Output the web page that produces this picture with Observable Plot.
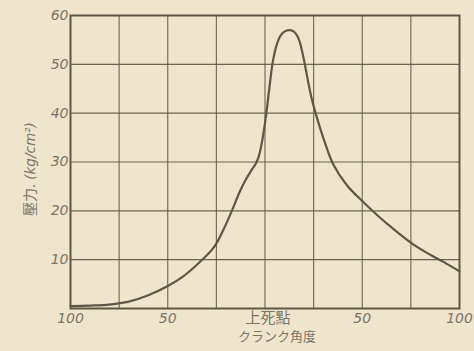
<!DOCTYPE html>
<html><head><meta charset="utf-8">
<script src="https://cdn.jsdelivr.net/npm/d3@7"></script>
<script src="https://cdn.jsdelivr.net/npm/@observablehq/plot@0.6"></script>
<style>
html,body{margin:0;padding:0;background:#efe4cc;}
</style></head><body><div id="chart"></div>
<script>
const crankAngle = [-100, -90, -80, -70, -60, -50, -42, -36, -32, -28, -25, -22, -19, -16, -13, -10, -7, -5, -3.5, -2, -0.5, 1, 2.5, 4, 6, 8, 10, 12.5, 14.5, 16.5, 18, 19.5, 21, 22.5, 24, 26, 30, 35, 42, 50, 58, 66, 76, 85, 92, 100];
const pressure   = [0.5, 0.6, 0.8, 1.4, 2.7, 4.6, 6.6, 8.6, 10.1, 11.7, 13.3, 15.6, 18.2, 21.0, 23.9, 26.3, 28.3, 29.5, 30.8, 33.2, 36.6, 41.0, 46.0, 50.5, 54.0, 55.9, 56.7, 57.0, 56.8, 55.9, 54.4, 51.9, 48.9, 45.8, 43.0, 40.0, 34.9, 29.6, 25.3, 22.0, 19.0, 16.3, 13.2, 11.0, 9.5, 7.6];
const xTicks = [-100, -50, 50, 100];
const xTickLabels = ["100", "50", "50", "100"];
const tdcTick = [0];
const tdcLabel = "上死點";
const xTitle = "クランク角度";
const yTitleA = "壓力.";
const yTitleB = "(kg/cm²)";
const yTicks = [10, 20, 30, 40, 50, 60];
const xGrid = [-75, -50, -25, 0, 25, 50, 75];
const yGrid = [10, 20, 30, 40, 50];

const data = crankAngle.map((a, i) => ({a, p: pressure[i]}));
const ink = "#5e5747";
const textInk = "#7b7567";

const chart = Plot.plot({
  width: 474, height: 351,
  marginLeft: 70, marginRight: 15, marginTop: 15, marginBottom: 43,
  style: {background: "transparent", fontFamily: "'DejaVu Sans', sans-serif", overflow: "visible"},
  x: {domain: [-100, 100]},
  y: {domain: [0, 60]},
  marks: [
    Plot.ruleX(xGrid, {stroke: ink, strokeWidth: 1.1, strokeOpacity: 0.9}),
    Plot.ruleY(yGrid, {stroke: ink, strokeWidth: 1.1, strokeOpacity: 0.9}),
    Plot.frame({stroke: ink, strokeWidth: 2}),
    Plot.line(data, {x: "a", y: "p", stroke: ink, strokeWidth: 2.2, curve: "catmull-rom"}),
    Plot.axisX(xTicks, {tickSize: 0, tickPadding: 5, tickFormat: (d, i) => xTickLabels[i], fontStyle: "italic", fontSize: 14, fill: textInk, label: null}),
    Plot.text(tdcTick, {x: d => d, frameAnchor: "bottom", dy: 14, dx: 3, text: () => tdcLabel, fontSize: 15, fill: textInk, fontFamily: "'Noto Sans CJK JP'"}),
    Plot.axisY(yTicks, {tickSize: 0, tickPadding: 2, tickFormat: d => String(d), fontStyle: "italic", fontSize: 14, fill: textInk, label: null}),
    Plot.text([xTitle], {frameAnchor: "bottom", dy: 32, dx: 12, fontSize: 13, fill: textInk, fontFamily: "'Noto Sans CJK JP'"}),
    Plot.text([yTitleA], {frameAnchor: "left", textAnchor: "middle", dx: -40, dy: 38, rotate: -90, fontSize: 14, fill: textInk, fontFamily: "'Noto Sans CJK JP'"}),
    Plot.text([yTitleB], {frameAnchor: "left", textAnchor: "middle", dx: -40, dy: -11, rotate: -90, fontSize: 13.5, fontStyle: "italic", fill: textInk})
  ]
});
document.getElementById("chart").appendChild(chart);
</script></body></html>
